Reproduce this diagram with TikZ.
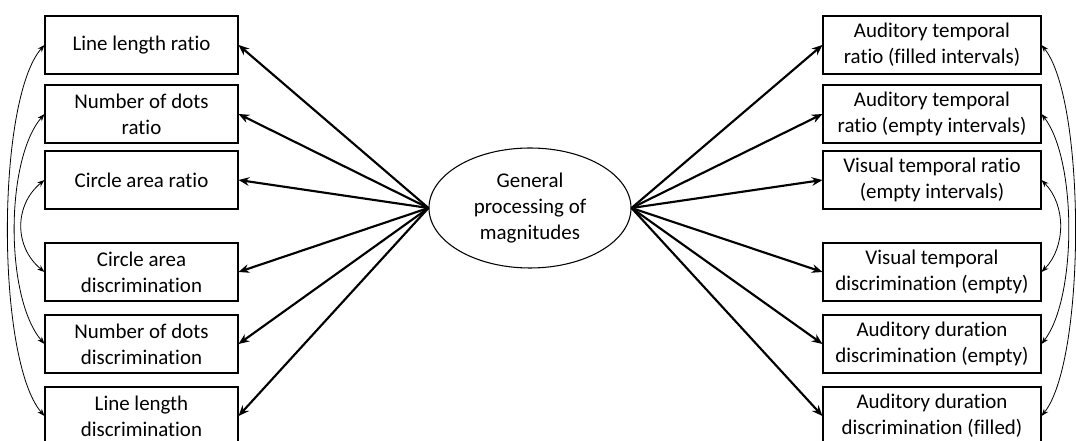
\documentclass[tikz,border=0pt]{standalone}
\usepackage{fontspec}
\setmainfont[Ligatures={NoCommon,NoContextual,NoRare}]{Carlito}
\usetikzlibrary{arrows.meta,shapes.geometric}
\begin{document}
\begin{tikzpicture}[x=0.75pt,y=-0.75pt,
  every node/.style={font=\fontsize{15.7}{19.4}\selectfont, align=center, inner sep=0pt},
  lbox/.style={draw, line width=0.8pt, minimum width=144.75pt, minimum height=43.5pt},
  rbox/.style={draw, line width=0.8pt, minimum width=163.5pt, minimum height=43.5pt},
  factor/.style={draw, ellipse, line width=0.8pt, minimum width=151.5pt, minimum height=90pt},
  load/.style={line width=1.6pt, -{Stealth[length=8pt,width=6.5pt]}},
  corr/.style={line width=0.6pt, {Stealth[length=5.5pt,width=4pt]}-{Stealth[length=5.5pt,width=4pt]}}
]
\useasboundingbox (0,0) rectangle (1076,441);

% latent factor
\node[factor] (g) at (530,208) {General\\processing of\\magnitudes};

% spatial / numerical indicators
\node[lbox] (l1) at (141.5,45)  {Line length ratio};
\node[lbox] (l2) at (141.5,114) {Number of dots\\ratio};
\node[lbox] (l3) at (141.5,180) {Circle area ratio};
\node[lbox] (l4) at (141.5,272) {Circle area\\discrimination};
\node[lbox] (l5) at (141.5,344) {Number of dots\\discrimination};
\node[lbox] (l6) at (141.5,416) {Line length\\discrimination};

% temporal indicators
\node[rbox] (r1) at (932,45)  {Auditory temporal\\ratio (filled intervals)};
\node[rbox] (r2) at (932,114) {Auditory temporal\\ratio (empty intervals)};
\node[rbox] (r3) at (932,180) {Visual temporal ratio\\(empty intervals)};
\node[rbox] (r4) at (932,272) {Visual temporal\\discrimination (empty)};
\node[rbox] (r5) at (932,344) {Auditory duration\\discrimination (empty)};
\node[rbox] (r6) at (932,416) {Auditory duration\\discrimination (filled)};

% factor loadings
\foreach \n in {l1,l2,l3,l4,l5,l6} \draw[load] (g.west) -- (\n.east);
\foreach \n in {r1,r2,r3,r4,r5,r6} \draw[load] (g.east) -- (\n.west);

% correlated residuals, left side
\draw[corr] (l1.west) .. controls (-4,100) and (-4,360) .. (l6.west);
\draw[corr] (l2.west) .. controls (5,160) and (5,298) .. (l5.west);
\draw[corr] (l3.west) .. controls (14,205) and (14,247) .. (l4.west);

% correlated residuals, right side
\draw[corr] (r1.east) .. controls (1086,100) and (1086,360) .. (r6.east);
\draw[corr] (r2.east) .. controls (1077,160) and (1077,298) .. (r5.east);
\draw[corr] (r3.east) .. controls (1066,205) and (1066,247) .. (r4.east);
\end{tikzpicture}
\end{document}
